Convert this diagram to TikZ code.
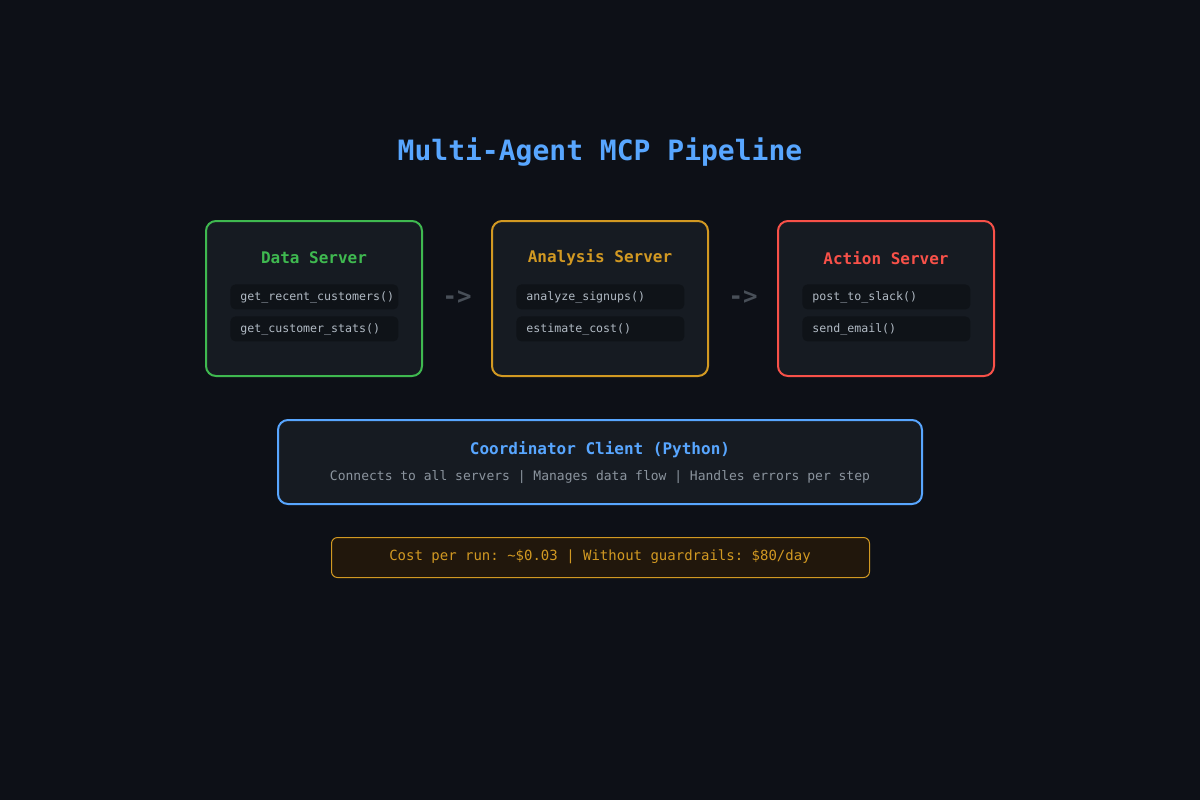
\documentclass[tikz,border=0pt]{standalone}
\usepackage{fontspec}
\setmonofont{DejaVu Sans Mono}
\definecolor{bg}{HTML}{0D1017}
\definecolor{boxbg}{HTML}{161B22}
\definecolor{pill}{HTML}{0F1318}
\definecolor{cgreen}{HTML}{3FB950}
\definecolor{corange}{HTML}{D29922}
\definecolor{cred}{HTML}{F85149}
\definecolor{cblue}{HTML}{58A6FF}
\definecolor{cgray}{HTML}{8B949E}
\definecolor{ptext}{HTML}{B1BAC4}
\definecolor{arrowc}{HTML}{484F58}
\definecolor{costbg}{HTML}{21170C}
\begin{document}
\begin{tikzpicture}[x=0.5pt,y=-0.5pt,font=\ttfamily,
  server/.style={draw,line width=1pt,fill=boxbg,rounded corners=5pt,minimum width=108pt,minimum height=77.5pt,anchor=north west},
  pillbox/.style={fill=pill,rounded corners=2.5pt,minimum width=84pt,minimum height=12.5pt,anchor=north west,inner sep=0pt},
  ptxt/.style={text=ptext,font=\ttfamily\fontsize{5.8}{7}\selectfont,anchor=west,inner sep=0pt},
  stitle/.style={font=\ttfamily\bfseries\fontsize{8}{9}\selectfont},
  arr/.style={text=arrowc,font=\ttfamily\bfseries\fontsize{12}{12}\selectfont}]
\fill[bg] (0,0) rectangle (1200,800);
\useasboundingbox (0,0) rectangle (1200,800);
\node[text=cblue,font=\ttfamily\bfseries\fontsize{14}{16}\selectfont] (title) at (600,152) {Multi-Agent MCP Pipeline};
% servers
\node[server,draw=cgreen] (data) at (205,220) {};
\node[server,draw=corange] (ana) at (491,220) {};
\node[server,draw=cred] (act) at (777,220) {};
\node[stitle,text=cgreen] (dt) at (314,258) {Data Server};
\node[stitle,text=corange] (at) at (600,258) {Analysis Server};
\node[stitle,text=cred] (ct) at (886,258) {Action Server};
\node[pillbox] (p1) at (230,284) {}; \node[ptxt] (t1) at (240,297) {get\_recent\_customers()};
\node[pillbox] (p2) at (230,316) {}; \node[ptxt] (t2) at (240,329) {get\_customer\_stats()};
\node[pillbox] (p3) at (516,284) {}; \node[ptxt] (t3) at (526,297) {analyze\_signups()};
\node[pillbox] (p4) at (516,316) {}; \node[ptxt] (t4) at (526,329) {estimate\_cost()};
\node[pillbox] (p5) at (802,284) {}; \node[ptxt] (t5) at (812,297) {post\_to\_slack()};
\node[pillbox] (p6) at (802,316) {}; \node[ptxt] (t6) at (812,329) {send\_email()};
\node[arr] (a1) at (457,298) {->};
\node[arr] (a2) at (743,298) {->};
% coordinator
\node[draw=cblue,line width=1pt,fill=boxbg,rounded corners=5pt,minimum width=322pt,minimum height=42pt,anchor=north west] (coord) at (277,419) {};
\node[stitle,text=cblue] (cot) at (600,450) {Coordinator Client (Python)};
\node[text=cgray,font=\ttfamily\fontsize{6.5}{8}\selectfont] (cos) at (600,477) {Connects to all servers | Manages data flow | Handles errors per step};
% cost
\node[draw=corange,line width=0.5pt,fill=costbg,rounded corners=3pt,minimum width=269pt,minimum height=20pt,anchor=north west] (cost) at (331,537) {};
\node[text=corange,font=\ttfamily\fontsize{7}{8}\selectfont] (costt) at (600,557) {Cost per run: \textasciitilde\$0.03 | Without guardrails: \$80/day};
\end{tikzpicture}
\end{document}
